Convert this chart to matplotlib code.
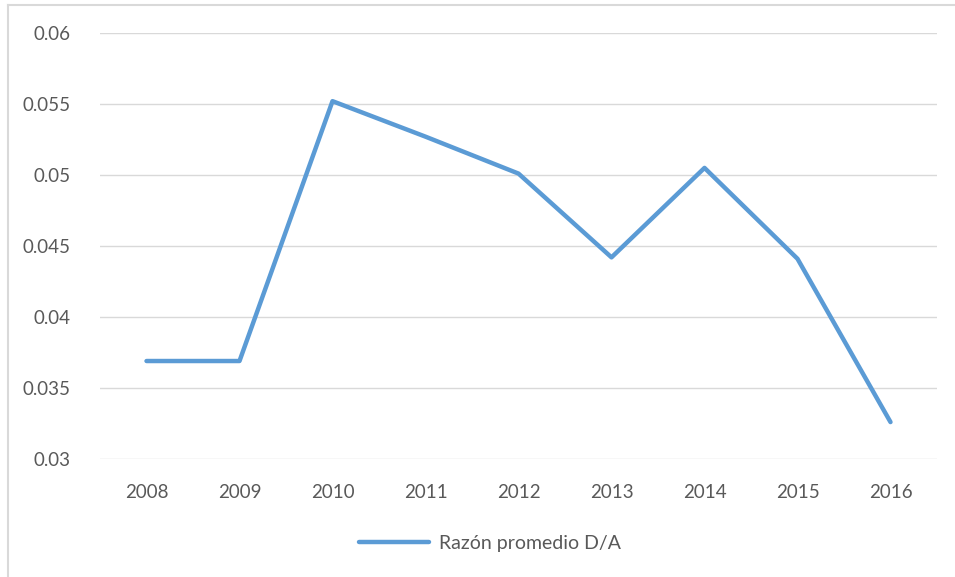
import matplotlib
matplotlib.use("Agg")
import matplotlib.pyplot as plt
from matplotlib.lines import Line2D

years = ["2008", "2009", "2010", "2011", "2012", "2013", "2014", "2015", "2016"]
ratio = [0.0369, 0.0369, 0.0552, 0.0527, 0.0501, 0.0442, 0.0505, 0.0441, 0.0326]
series_name = "Razón promedio D/A"
yticks = [0.03, 0.035, 0.04, 0.045, 0.05, 0.055, 0.06]
ytick_labels = ["0.03", "0.035", "0.04", "0.045", "0.05", "0.055", "0.06"]

plt.rcParams['font.family'] = ['Lato', 'DejaVu Sans']
text_color = "#595959"
line_color = "#5B9BD5"
grid_color = "#D9D9D9"

W, H = 955, 577
fig = plt.figure(figsize=(W/100, H/100), dpi=100)
ax = fig.add_axes([100/W, 1-459/H, (937-100)/W, 426/H])

x = list(range(len(years)))
ax.plot(x, ratio, color=line_color, lw=3.2, solid_capstyle='round', solid_joinstyle='round', label=series_name)

ax.set_xlim(-0.5, len(years)-0.5)
ax.set_ylim(0.03, 0.06)
ax.set_yticks(yticks)
ax.set_yticklabels(ytick_labels)
ax.set_xticks(x)
ax.set_xticklabels(years)
ax.grid(axis='y', color=grid_color, lw=1)
ax.set_axisbelow(True)
for s in ax.spines.values():
    s.set_visible(False)
ax.tick_params(axis='both', length=0, colors=text_color, labelsize=13.5)
ax.tick_params(axis='y', pad=21)
ax.tick_params(axis='x', pad=18)

leg = fig.legend(handles=[Line2D([0], [0], color=line_color, lw=3.2, solid_capstyle='round')],
                 labels=[series_name], loc='center', bbox_to_anchor=(490/W, 1-543/H),
                 frameon=False, fontsize=14, handlelength=3.6, handletextpad=0.5)
for t in leg.get_texts():
    t.set_color(text_color)

# outer border (left and top)
fig.add_artist(Line2D([8/W, 8/W], [0, 1-5/H], transform=fig.transFigure, color="#D9D9D9", lw=1.5))
fig.add_artist(Line2D([8/W, 1], [1-5/H, 1-5/H], transform=fig.transFigure, color="#D9D9D9", lw=1.5))

fig.savefig("out.png", dpi=100)
